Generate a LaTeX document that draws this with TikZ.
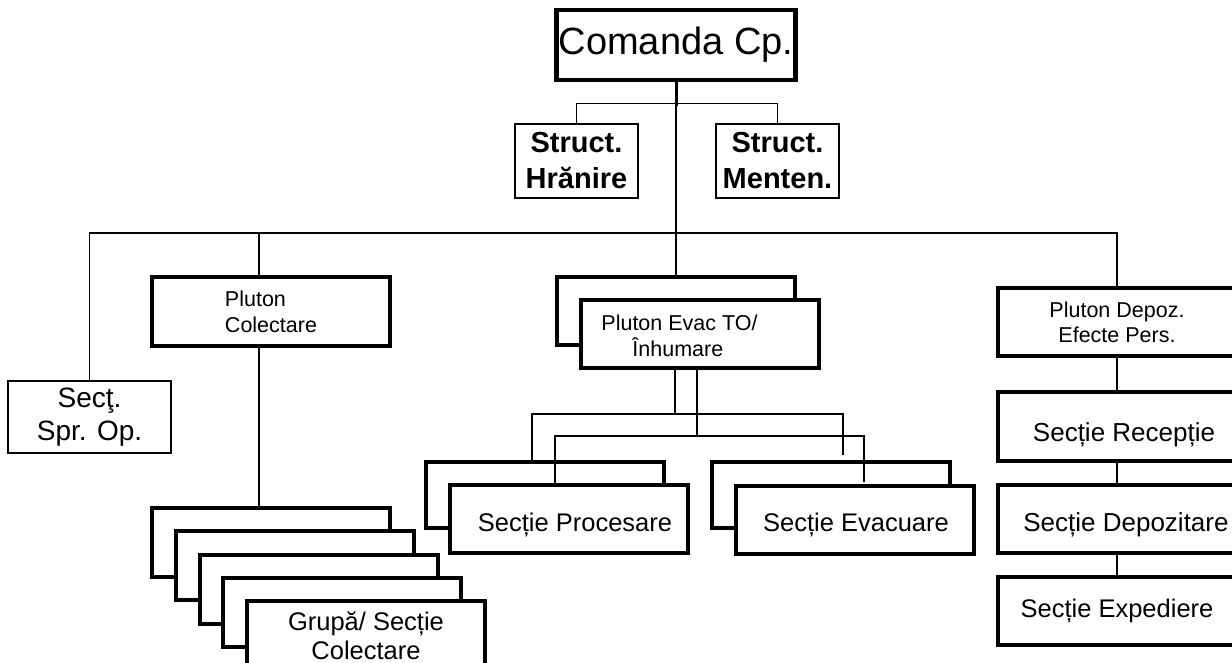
\documentclass[tikz,border=0pt]{standalone}
\usepackage{fontspec}
\setmainfont{Liberation Sans}
\begin{document}
\begin{tikzpicture}[x=1pt,y=-1pt,
  tk/.style={draw, line width=4pt, fill=white, inner sep=0pt, minimum width=238pt, minimum height=68pt, align=center, font=\fontsize{25.5}{29}\selectfont},
  tn/.style={draw, line width=1.5pt, fill=white, inner sep=0pt, align=center},
  conn/.style={line width=1.3pt},
  lbl/.style={inner sep=0pt, align=center, font=\fontsize{25.5}{29}\selectfont}]
\useasboundingbox (0,0) rectangle (1232,663);

% top level
\node[tk, line width=4.5pt, minimum width=239pt, minimum height=70pt, font=\fontsize{38}{40}\selectfont] (cmd) at (676,45) {Comanda Cp.};
\node[tn, minimum width=123pt, minimum height=74pt, font=\fontsize{29}{36}\selectfont\bfseries] (hr) at (576.5,161) {Struct.\\Hrănire};
\node[tn, minimum width=123pt, minimum height=74pt, font=\fontsize{29}{36}\selectfont\bfseries] (mt) at (777.5,161) {Struct.\\Menten.};

% second level
\node[tn, minimum width=163pt, minimum height=72pt, font=\fontsize{28}{33}\selectfont] (sop) at (89.5,417) {Secţ.\\Spr. Op.};
\node[tk, align=left, font=\fontsize{21.5}{26}\selectfont] (pcol) at (271,311.5) {Pluton\\Colectare};
\node[tk] (pevb) at (676,311) {};
\node[tk] (pev) at (700,334) {};
\node[lbl, align=left, font=\fontsize{21.5}{25.5}\selectfont] (pevt) at (679.5,336) {Pluton Evac TO/\\\hspace*{31pt}Înhumare};
\node[tk, font=\fontsize{21.5}{25}\selectfont] (pdep) at (1117,322) {Pluton Depoz.\\Efecte Pers.};

% right column
\node[tk, minimum height=69pt] (rec) at (1117,426.5) {};
\node[lbl, font=\fontsize{26}{29}\selectfont] (rect) at (1124,435) {Secție Recepție};
\node[tk] (dep) at (1117,519) {};
\node[lbl, font=\fontsize{26}{29}\selectfont] (dept) at (1126,525) {Secție Depozitare};
\node[tk] (exp) at (1117,611) {Secție Expediere};

% Pluton Evac sections
\node[tk, minimum height=66pt] (prb) at (545,495) {};
\node[tk] (prf) at (568.5,519) {};
\node[lbl] (prt) at (575,525) {Secție Procesare};
\node[tk, minimum height=66pt] (evb) at (831,495) {};
\node[tk] (evf) at (854.5,519.5) {};
\node[lbl] (evt) at (856,525) {Secție Evacuare};

% collection stack
\node[tk, minimum height=69pt] (g0) at (271,542.5) {};
\node[tk, minimum height=69pt] (g1) at (294.75,565.75) {};
\node[tk, minimum height=69pt] (g2) at (318.5,589) {};
\node[tk, minimum height=69pt] (g3) at (342.25,612.25) {};
\node[tk, minimum height=69pt] (g4) at (366,635.5) {Grupă/ Secție\\Colectare};

% connectors
\coordinate (bus) at (0,233);
\coordinate (colx) at (259,0);
\coordinate (a1) at (675,414);
\coordinate (a2) at (697,436);
\coordinate (b1) at (532,414);
\coordinate (b2) at (555,436);
\coordinate (e1) at (843,455);
\coordinate (e2) at (864,482);

\draw[line width=3pt] (cmd.south) -- ++(0,24);
\draw[conn] (cmd.south) -- (pevb.north);
\draw[conn] (hr.north) -- ++(0,-20) -| (mt.north);
\draw[conn] (sop.north) |- (pdep.north |- bus) -- (pdep.north);
\draw[conn] (colx |- bus) -- (colx |- pcol.north);
\draw[conn] (colx |- pcol.south) -- (colx |- g0.north);
\draw[conn] (a1 |- pev.south) -- (a1);
\draw[conn] (b1 |- prb.north) -- (b1) -- (e1 |- b1) -- (e1);
\draw[conn] (a2 |- pev.south) -- (a2);
\draw[conn] (b2 |- prf.north) -- (b2) -- (e2 |- b2) -- (e2);
\draw[conn] (rec.north) -- (pdep.south);
\draw[conn] (dep.north) -- (rec.south);
\draw[conn] (exp.north) -- (dep.south);
\end{tikzpicture}
\end{document}
